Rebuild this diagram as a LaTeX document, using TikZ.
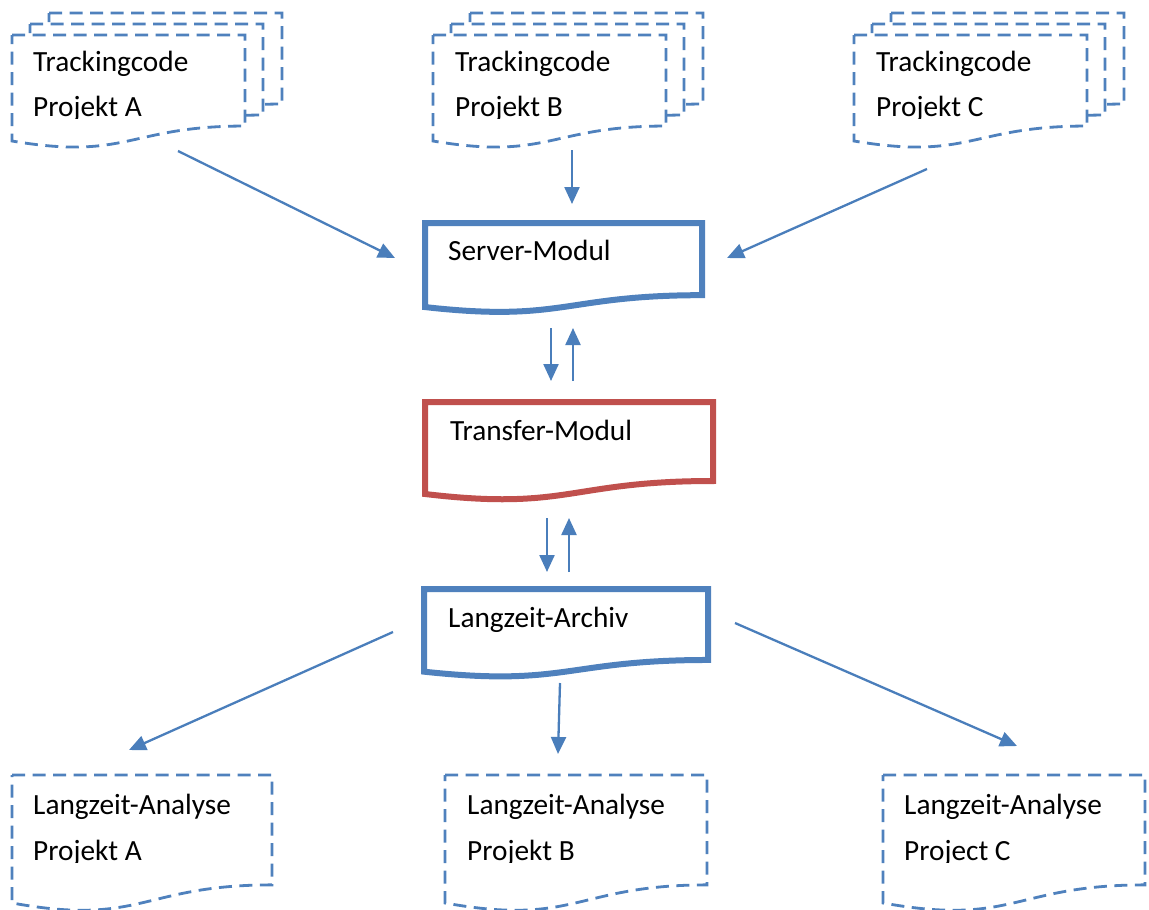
\documentclass[tikz,border=0pt]{standalone}
\usepackage{fontspec}
\setmainfont{Carlito}
\usetikzlibrary{arrows.meta}
\definecolor{docblue}{HTML}{4F81BD}
\definecolor{docred}{HTML}{C0504D}
\definecolor{arrowblue}{HTML}{4A7EBB}

% flowchart "document" outline: style, left, top, right, height
\newcommand\flowdoc[5]{%
  \draw[#1] (#2,#3) -- (#4,#3) -- (#4,{#3+0.802*#5})
    .. controls ({(#2+#4)/2},{#3+0.802*#5}) and ({(#2+#4)/2},{#3+1.1075*#5})
    .. (#2,{#3+0.934*#5}) -- cycle;}

% stack of three dashed documents, front sheet at the given left edge
\newcommand\docstack[1]{%
  \flowdoc{dashdoc}{#1+37}{13}{#1+270}{113.5}%
  \flowdoc{dashdoc}{#1+18}{24}{#1+251}{113.5}%
  \flowdoc{dashdoc}{#1}{35}{#1+233}{113.5}}

\tikzset{
  dashdoc/.style={draw=docblue, line width=2.8pt, dash pattern=on 13pt off 7.5pt, fill=white, line join=miter},
  boldblue/.style={draw=docblue, line width=6pt, fill=white, line join=miter},
  boldred/.style={draw=docred, line width=6pt, fill=white, line join=miter},
  lbl/.style={anchor=base west, inner sep=0pt, font=\fontsize{29.3}{35}\selectfont},
  flow/.style={draw=arrowblue, line width=2.3pt, -{Triangle[length=17pt,width=15pt]}},
}

\begin{document}
\begin{tikzpicture}[x=1pt, y=-1pt]
\useasboundingbox (0,0) rectangle (1149,910);

% --- tracking code stacks ---
\docstack{12}
\docstack{433}
\docstack{854}

\node[lbl] (trA1) at (33,71) {Trackingcode};
\node[lbl] (trB1) at (455,71) {Trackingcode};
\node[lbl] (trC1) at (876,71) {Trackingcode};
\begin{scope}
  \clip (20,80) rectangle (240,118);
  \node[lbl] (trA2) at (33,116) {Projekt A};
\end{scope}
\begin{scope}
  \clip (440,80) rectangle (660,118);
  \node[lbl] (trB2) at (455,116) {Projekt B};
\end{scope}
\begin{scope}
  \clip (860,80) rectangle (1080,118);
  \node[lbl] (trC2) at (876,116) {Projekt C};
\end{scope}

% --- central modules ---
\flowdoc{boldblue}{425}{223}{702}{90}
\node[lbl] (server) at (448,260) {Server-Modul};
\flowdoc{boldred}{425}{402}{713}{98.5}
\node[lbl] (transfer) at (450,440) {Transfer-Modul};
\flowdoc{boldblue}{424}{589}{708}{88.5}
\node[lbl] (archiv) at (448,627) {Langzeit-Archiv};

% --- analysis documents ---
\flowdoc{dashdoc}{12}{775}{272}{137}
\flowdoc{dashdoc}{445}{775}{707}{137}
\flowdoc{dashdoc}{883}{775}{1145}{137}
\node[lbl] (anA1) at (33,814) {Langzeit-Analyse};
\node[lbl] (anB1) at (467,814) {Langzeit-Analyse};
\node[lbl] (anC1) at (904,814) {Langzeit-Analyse};
\begin{scope}
  \clip (20,825) rectangle (265,862);
  \node[lbl] (anA2) at (33,860) {Projekt A};
\end{scope}
\begin{scope}
  \clip (450,825) rectangle (700,862);
  \node[lbl] (anB2) at (467,860) {Projekt B};
\end{scope}
\begin{scope}
  \clip (890,825) rectangle (1140,862);
  \node[lbl] (anC2) at (904,860) {Project C};
\end{scope}

% --- connector end points ---
\coordinate (inA) at (178,151);   \coordinate (srvA) at (395,258);
\coordinate (inB) at (572,150);   \coordinate (srvB) at (572,204);
\coordinate (inC) at (927,169);   \coordinate (srvC) at (727,258);
\coordinate (srvDn) at (551,328); \coordinate (trfDn) at (551,381);
\coordinate (trfUp) at (573,381); \coordinate (srvUp) at (573,328);
\coordinate (trfDn2) at (547,518); \coordinate (arcDn) at (547,572);
\coordinate (arcUp) at (569,572); \coordinate (trfUp2) at (569,518);
\coordinate (arcA) at (393,632);  \coordinate (outA) at (129,750);
\coordinate (arcB) at (560,683);  \coordinate (outB) at (558,754);
\coordinate (arcC) at (735,623);  \coordinate (outC) at (1017,746);

% --- connectors ---
\draw[flow] (inA) -- (srvA);
\draw[flow] (inB) -- (srvB);
\draw[flow] (inC) -- (srvC);
\draw[flow] (srvDn) -- (trfDn);
\draw[flow] (trfUp) -- (srvUp);
\draw[flow] (trfDn2) -- (arcDn);
\draw[flow] (arcUp) -- (trfUp2);
\draw[flow] (arcA) -- (outA);
\draw[flow] (arcB) -- (outB);
\draw[flow] (arcC) -- (outC);
\end{tikzpicture}
\end{document}
